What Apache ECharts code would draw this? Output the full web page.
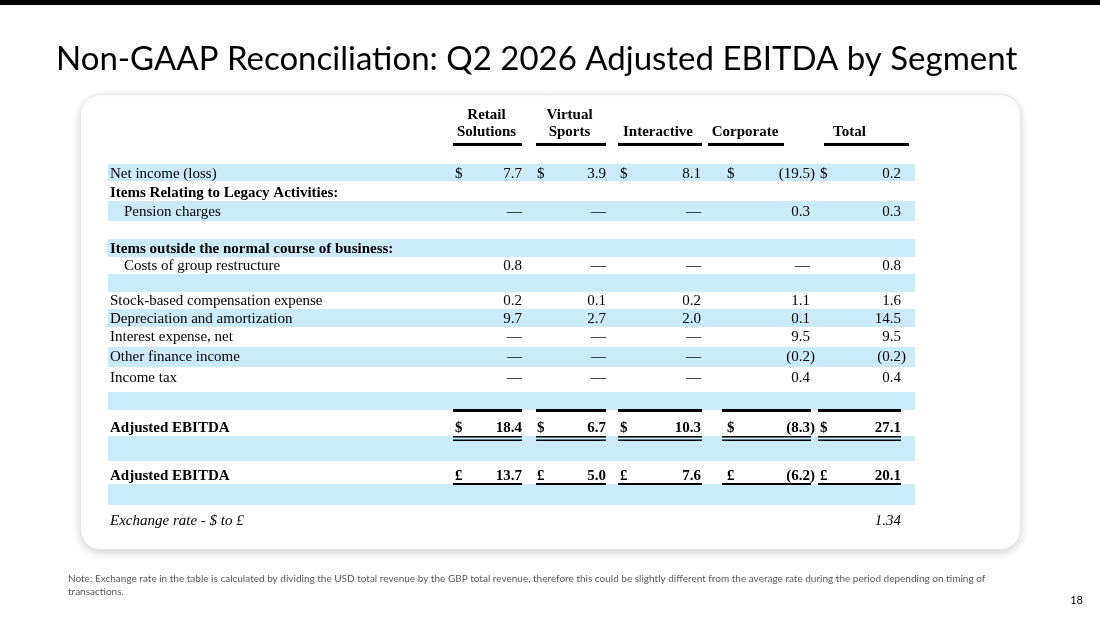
<!DOCTYPE html>
<html>
<head>
<meta charset="utf-8">
<script src="https://cdn.jsdelivr.net/npm/echarts/dist/echarts.min.js"></script>
<style>
html, body { margin: 0; padding: 0; background: #fff; }
#chart { width: 1100px; height: 619px; }
</style>
</head>
<body>
<div id="chart"></div>
<script>
// ---- data ----
const columns = ['Retail\nSolutions', 'Virtual\nSports', 'Interactive', 'Corporate', 'Total'];
const rowLabels = [
    'Net income (loss)',
    'Items Relating to Legacy Activities:',
    'Pension charges',
    '',
    'Items outside the normal course of business:',
    'Costs of group restructure',
    '',
    'Stock-based compensation expense',
    'Depreciation and amortization',
    'Interest expense, net',
    'Other finance income',
    'Income tax',
    '',
    'Adjusted EBITDA',
    '',
    'Adjusted EBITDA',
    '',
    'Exchange rate - $ to £',
];
// 0 is shown as a dash, null is an empty cell
const retailSolutions = [7.7, null, 0, null, null, 0.8, null, 0.2, 9.7, 0, 0, 0, null, 18.4, null, 13.7, null, null];
const virtualSports   = [3.9, null, 0, null, null, 0, null, 0.1, 2.7, 0, 0, 0, null, 6.7, null, 5.0, null, null];
const interactive     = [8.1, null, 0, null, null, 0, null, 0.2, 2.0, 0, 0, 0, null, 10.3, null, 7.6, null, null];
const corporate       = [-19.5, null, 0.3, null, null, 0, null, 1.1, 0.1, 9.5, -0.2, 0.4, null, -8.3, null, -6.2, null, null];
const total           = [0.2, null, 0.3, null, null, 0.8, null, 1.6, 14.5, 9.5, -0.2, 0.4, null, 27.1, null, 20.1, null, null];
const exchangeRate = 1.34;
const currencySymbols = ['$', null, null, null, null, null, null, null, null, null, null, null, null, '$', null, '£', null, null];
const segments = [retailSolutions, virtualSports, interactive, corporate, total];

// ---- layout ----
const rowHeights = [17, 20, 20, 18, 18, 17, 18, 17, 18, 20, 20, 25, 18, 26, 25, 23, 21, 30];
const textShift  = [2, 2, 1, 0, 1, 1, 0, 1, 1, 0, 0, -1, 0, 5, 0, 4, 0, 1];
const boldRows = [1, 4, 13, 15];
const indentRows = [2, 5];
const rowTop = [0];
rowHeights.forEach((h, i) => rowTop.push(rowTop[i] + h));
const TABLE_W = 807;
const TABLE_H = rowTop[rowTop.length - 1];
const colLayout = [
    { sym: 347, right: 414, head: [345, 414], headX: 378.5, foot: [345, 414] },
    { sym: 429, right: 498, head: [428, 498], headX: 461.5, foot: [428, 498] },
    { sym: 512, right: 593, head: [510, 594], headX: 550, foot: [510, 594] },
    { sym: 619, right: 702, head: [600, 676], headX: 637, foot: [614, 703] },
    { sym: 712, right: 793, head: [716, 801], headX: 741.5, foot: [710, 793] },
];
const BAND = '#CCEBFA';
const SERIF = '"Liberation Serif", "Times New Roman", serif';
const FS = 15;

function txt(x, y, text, o) {
    const align = o.align || 'left';
    return {
        type: 'text', x: x, y: y, z2: 5,
        style: {
            text: text, fill: '#000', fontFamily: SERIF, fontSize: FS,
            fontWeight: o.bold ? 'bold' : 'normal',
            fontStyle: o.italic ? 'italic' : 'normal',
            align: align, verticalAlign: 'middle',
        },
    };
}

function bar(x0, x1, y, h) {
    return { type: 'rect', z2: 10, shape: { x: x0, y: y, width: x1 - x0, height: h }, style: { fill: '#000' } };
}

function fmt(v) {
    if (v === 0) return '—';
    return (v < 0 ? '(' : '') + Math.abs(v).toFixed(1);
}

function renderRow(params, api) {
    const i = params.dataIndex;
    const p0 = api.coord([0, rowTop[i]]);
    const p1 = api.coord([TABLE_W, rowTop[i + 1]]);
    const y = (p0[1] + p1[1]) / 2 + textShift[i];
    const bold = boldRows.indexOf(i) >= 0;
    const children = [];
    if (i % 2 === 0 && i < 17) {
        children.push({ type: 'rect', z2: 0, shape: { x: p0[0], y: p0[1], width: p1[0] - p0[0], height: p1[1] - p0[1] }, style: { fill: BAND } });
    }
    if (rowLabels[i]) {
        const lx = api.coord([indentRows.indexOf(i) >= 0 ? 16 : 2, 0])[0];
        children.push(txt(lx, y, rowLabels[i], { bold: bold, italic: i === 17 }));
    }
    segments.forEach((seg, j) => {
        const c = colLayout[j];
        const v = seg[i];
        const rx = api.coord([c.right, 0])[0];
        if (v !== null) {
            if (currencySymbols[i]) {
                children.push(txt(api.coord([c.sym, 0])[0], y, currencySymbols[i], { bold: bold }));
            }
            children.push(txt(rx, y, fmt(v), { bold: bold, align: 'right' }));
            if (v < 0) children.push(txt(rx, y, ')', { bold: bold }));
        }
        const f0 = api.coord([c.foot[0], 0])[0];
        const f1 = api.coord([c.foot[1], 0])[0];
        if (i === 13) {
            children.push(bar(f0, f1, p0[1] - 1, 3));
            children.push(bar(f0, f1, p1[1], 1.6));
            children.push(bar(f0, f1, p1[1] + 3.4, 1.6));
        }
        if (i === 15) {
            children.push(bar(f0, f1, p1[1] - 1, 2));
        }
    });
    if (i === 17) {
        children.push(txt(api.coord([colLayout[4].right, 0])[0], y, exchangeRate.toFixed(2), { italic: true, align: 'right' }));
    }
    return { type: 'group', children: children };
}

function renderHeader(params, api) {
    const j = params.dataIndex;
    const c = colLayout[j];
    const lines = columns[j].split('\n');
    const children = [];
    lines.reverse().forEach((line, k) => {
        const p = api.coord([c.headX, -32 - 17 * k]);
        children.push(txt(p[0], p[1], line, { bold: true, align: 'center' }));
    });
    const a = api.coord([c.head[0], -21]);
    const b = api.coord([c.head[1], -21]);
    children.push(bar(a[0], b[0], a[1], 3));
    return { type: 'group', children: children };
}

const chart = echarts.init(document.getElementById('chart'), null, { renderer: 'canvas' });
chart.setOption({
    backgroundColor: '#fff',
    animation: false,
    grid: { left: 108, top: 164, width: TABLE_W, height: TABLE_H },
    xAxis: { type: 'value', min: 0, max: TABLE_W, show: false },
    yAxis: { type: 'value', min: 0, max: TABLE_H, inverse: true, show: false },
    graphic: [
        { type: 'rect', z: 0, left: 0, top: 0, shape: { width: 1100, height: 5 }, style: { fill: '#000' } },
        {
            type: 'rect', z: 0, left: 80, top: 94,
            shape: { width: 940, height: 455, r: 20 },
            style: { fill: '#fff', stroke: '#e6e6e6', lineWidth: 1, shadowBlur: 10, shadowOffsetY: 3, shadowColor: 'rgba(0,0,0,0.16)' },
        },
        {
            type: 'text', z: 1, x: 56, y: 59,
            style: { text: 'Non-GAAP Reconciliation: Q2 2026 Adjusted EBITDA by Segment', fill: '#000', fontFamily: 'Lato', fontSize: 33, verticalAlign: 'middle' },
        },
        {
            type: 'text', z: 1, x: 68, y: 572,
            style: {
                text: 'Note: Exchange rate in the table is calculated by dividing the USD total revenue by the GBP total revenue, therefore this could be slightly different from the average rate during the period depending on timing of\ntransactions.',
                fill: '#595959', fontFamily: 'Lato', fontSize: 10, lineHeight: 13,
            },
        },
        {
            type: 'text', z: 1, x: 1083, y: 600,
            style: { text: '18', fill: '#000', fontFamily: 'Lato', fontSize: 11, align: 'right', verticalAlign: 'middle' },
        },
    ],
    series: [
        {
            type: 'custom', name: 'rows', z: 5,
            renderItem: renderRow,
            data: rowLabels.map((l, i) => [0, i]),
            silent: true,
        },
        {
            type: 'custom', name: 'header', z: 5,
            renderItem: renderHeader,
            data: columns.map((c, j) => [colLayout[j].headX, 0]),
            silent: true,
        },
    ],
});
</script>
</body>
</html>
